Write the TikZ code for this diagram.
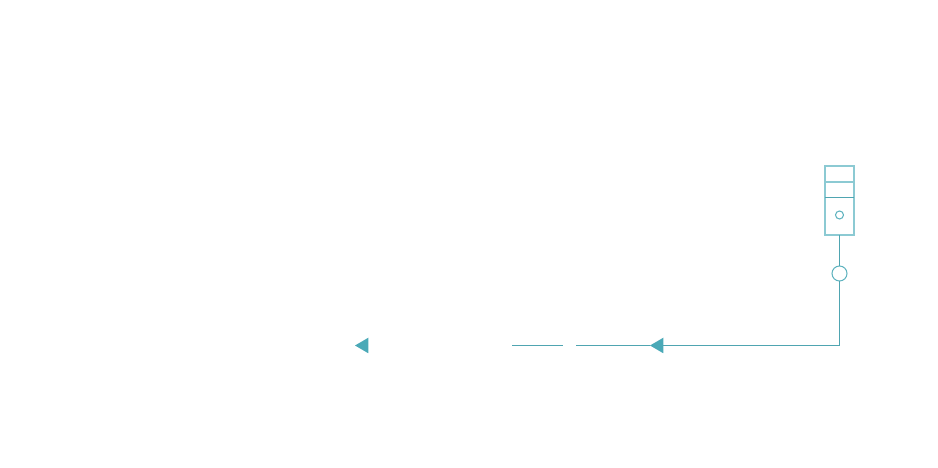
\documentclass[tikz,border=0pt]{standalone}
\usetikzlibrary{calc,shapes.geometric}
\definecolor{tealline}{HTML}{4FA5B1}
\definecolor{tealbox}{HTML}{8CCAD3}
\definecolor{teallamp}{HTML}{5FB3BF}
\definecolor{tealhead}{HTML}{4AA9B7}
\tikzset{
  wire/.style={draw=tealline,line width=0.55pt},
  tower/.style={draw=tealbox,line width=0.65pt,minimum width=0.58cm,minimum height=1.38cm,inner sep=0pt,outer sep=0pt},
  lamp/.style={circle,draw=teallamp,line width=0.6pt,inner sep=0pt,outer sep=0pt},
  headleft/.style={isosceles triangle,isosceles triangle stretches,shape border rotate=180,fill=tealhead,inner sep=0pt,outer sep=0pt,minimum height=0.265cm,minimum width=0.31cm,anchor=apex}
}
\begin{document}
\begin{tikzpicture}
  \useasboundingbox (0,0) rectangle (18.76,9.36);
  \node[tower] (box) at (16.79,5.35) {};
  \node[lamp,minimum size=0.16cm] (led) at (16.79,5.06) {};
  \node[lamp,minimum size=0.30cm] (port) at (16.79,3.89) {};
  \node[headleft] (headA) at (13.00,2.45) {};
  \node[headleft] (headB) at (7.10,2.45) {};
  \coordinate (corner) at (16.79,2.45);
  \coordinate (endA) at (11.52,2.45);
  \coordinate (gapL) at (10.24,2.45);
  \coordinate (gapR) at (11.26,2.45);
  \draw[draw=tealbox,line width=0.65pt] ($(box.north west)+(0,-0.32)$) -- ($(box.north east)+(0,-0.32)$);
  \draw[wire] ($(box.north west)+(0,-0.62)$) -- ($(box.north east)+(0,-0.62)$);
  \draw[wire] (box) -- (port);
  \draw[wire] (port) -- (corner) -- (headA);
  \draw[wire] (headA) -- (endA);
  \draw[wire] (gapL) -- (gapR);
\end{tikzpicture}
\end{document}
